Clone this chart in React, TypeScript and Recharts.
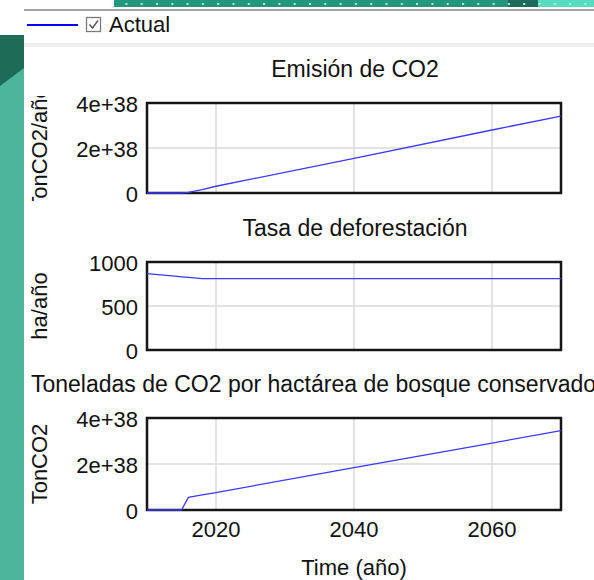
import { LineChart, Line, XAxis, YAxis, CartesianGrid, ReferenceArea } from 'recharts';

const FONT = '"Liberation Sans", Arial, sans-serif';

const YEARS = [2010, 2014, 2015, 2016, 2018, 2020, 2040, 2060, 2070];
const EMISION = [0, 0, 0, 0.03e38, 0.15e38, 0.3e38, 1.54e38, 2.8e38, 3.42e38];
const TASA = [868, 839, 832, 825, 812, 812, 812, 812, 812];
const TONELADAS = [0, 0, 0, 0.55e38, 0.66e38, 0.76e38, 1.84e38, 2.91e38, 3.45e38];

const X_DOMAIN = [2010, 2070];
const X_TICKS = [2020, 2040, 2060];
const CO2_TICKS = [0, 2e38, 4e38];
const TASA_TICKS = [0, 500, 1000];

const emisionData = YEARS.map((year, i) => ({ year, value: EMISION[i] }));
const tasaData = YEARS.map((year, i) => ({ year, value: TASA[i] }));
const toneladasData = YEARS.map((year, i) => ({ year, value: TONELADAS[i] }));

const fmtSci = (v: number) => (v === 0 ? '0' : `${Math.round(v / 1e38)}e+38`);
const fmtPlain = (v: number) => String(v);

const yTick = (fmt: (v: number) => string) => (props: any) => (
  <text x={props.x} y={props.y} dy={9} textAnchor="end" fontSize={22} fill="#111" fontFamily={FONT}>
    {fmt(props.payload.value)}
  </text>
);

const xTick = (props: any) => (
  <text x={props.x} y={props.y} dy={27} textAnchor="middle" fontSize={22} fill="#111" fontFamily={FONT}>
    {props.payload.value}
  </text>
);

// rotated unit label, optionally clipped like the original
const yLabel = (text: string, id: string, clip?: [number, number]) => (props: any) => {
  const vb = props.viewBox;
  const cx = vb.x + 15;
  const cy = vb.y + vb.height / 2;
  return (
    <g clipPath={clip ? `url(#${id})` : undefined}>
      {clip && (
        <defs>
          <clipPath id={id} clipPathUnits="userSpaceOnUse">
            <rect x={0} y={clip[0]} width={60} height={clip[1] - clip[0]} />
          </clipPath>
        </defs>
      )}
      <text
        x={cx}
        y={cy}
        transform={`rotate(-90 ${cx} ${cy})`}
        textAnchor="middle"
        dominantBaseline="central"
        fontSize={22}
        fill="#111"
        fontFamily={FONT}
      >
        {text}
      </text>
    </g>
  );
};

const timeLabel = (props: any) => {
  const vb = props.viewBox;
  return (
    <text x={vb.x + vb.width / 2} y={vb.y + 65} textAnchor="middle" fontSize={22} fill="#111" fontFamily={FONT}>
      Time (año)
    </text>
  );
};

type PanelProps = {
  data: { year: number; value: number }[];
  top: number;
  height: number;
  margin: { top: number; right: number; bottom: number; left: number };
  yMax: number;
  yTicks: number[];
  fmt: (v: number) => string;
  unit: string;
  labelId: string;
  clip?: [number, number];
  showX?: boolean;
};

function Panel({ data, top, height, margin, yMax, yTicks, fmt, unit, labelId, clip, showX }: PanelProps) {
  return (
    <div style={{ position: 'absolute', left: 24, top }}>
      <LineChart width={570} height={height} data={data} margin={margin}>
        <CartesianGrid stroke="#dadada" strokeWidth={1.5} />
        <XAxis
          dataKey="year"
          type="number"
          domain={X_DOMAIN}
          ticks={X_TICKS}
          hide={!showX}
          height={showX ? 70 : 0}
          axisLine={false}
          tickLine={false}
          tickSize={0}
          tickMargin={0}
          tick={xTick}
          label={showX ? timeLabel : undefined}
        />
        <YAxis
          type="number"
          domain={[0, yMax]}
          ticks={yTicks}
          width={123}
          axisLine={false}
          tickLine={false}
          tickSize={0}
          tickMargin={9}
          tick={yTick(fmt)}
          label={yLabel(unit, labelId, clip)}
        />
        <ReferenceArea
          x1={X_DOMAIN[0]}
          x2={X_DOMAIN[1]}
          y1={0}
          y2={yMax}
          fill="none"
          stroke="#151515"
          strokeWidth={2.5}
          ifOverflow="visible"
        />
        <Line
          type="linear"
          dataKey="value"
          stroke="#3a3aff"
          strokeWidth={1.3}
          dot={false}
          isAnimationActive={false}
        />
      </LineChart>
    </div>
  );
}

export default function App() {
  return (
    <div style={{ position: 'absolute', left: 0, top: 0, width: 594, height: 580, overflow: 'hidden', background: '#fff' }}>
      <svg width={594} height={580} style={{ position: 'absolute', left: 0, top: 0 }}>
        <defs>
          <pattern id="dots" x={3} y={3} width={15.3} height={8} patternUnits="userSpaceOnUse">
            <rect x={0} y={0} width={2} height={2} fill="#b5e8da" />
          </pattern>
        </defs>
        <rect x={114} y={0} width={394} height={7} fill="#23977b" />
        <rect x={508} y={0} width={30} height={7} fill="#1d6b5a" />
        <rect x={538} y={0} width={56} height={7} fill="#57dcbd" />
        <rect x={114} y={0} width={480} height={7} fill="url(#dots)" />
        <rect x={24} y={9} width={570} height={2} fill="#a3a3a3" />
        <rect x={24} y={43} width={570} height={4} fill="#efefef" />
        <rect x={0} y={35} width={24} height={545} fill="#4db59c" />
        <polygon points="0,35 24,35 24,68 0,86" fill="#1e6b58" />

        <line x1={27} y1={25} x2={78} y2={25} stroke="#0000ff" strokeWidth={2.2} />
        <rect x={86.5} y={17.5} width={14} height={14} fill="#fff" stroke="#7a7a7a" strokeWidth={1.3} />
        <path d="M89.5 24.5 L92.5 28 L98 20.5" fill="none" stroke="#555" strokeWidth={1.4} />
        <text x={109} y={32} fontSize={22} fill="#111" fontFamily={FONT}>Actual</text>

        <text x={355} y={77} textAnchor="middle" fontSize={23} fill="#111" fontFamily={FONT}>Emisión de CO2</text>
        <text x={355} y={236} textAnchor="middle" fontSize={23} fill="#111" fontFamily={FONT}>Tasa de deforestación</text>
        <text x={31} y={392} fontSize={23} fill="#111" fontFamily={FONT}>Toneladas de CO2 por hactárea de bosque conservado</text>
      </svg>

      <Panel
        data={emisionData}
        top={47}
        height={163}
        margin={{ top: 56, right: 33, bottom: 17, left: 0 }}
        yMax={4e38}
        yTicks={CO2_TICKS}
        fmt={fmtSci}
        unit="TonCO2/año"
        labelId="clipEmision"
        clip={[49, 154]}
      />
      <Panel
        data={tasaData}
        top={210}
        height={155}
        margin={{ top: 52, right: 33, bottom: 15, left: 0 }}
        yMax={1000}
        yTicks={TASA_TICKS}
        fmt={fmtPlain}
        unit="ha/año"
        labelId="clipTasa"
      />
      <Panel
        data={toneladasData}
        top={365}
        height={215}
        margin={{ top: 53, right: 33, bottom: 0, left: 0 }}
        yMax={4e38}
        yTicks={CO2_TICKS}
        fmt={fmtSci}
        unit="TonCO2"
        labelId="clipTon"
        showX
      />
    </div>
  );
}
